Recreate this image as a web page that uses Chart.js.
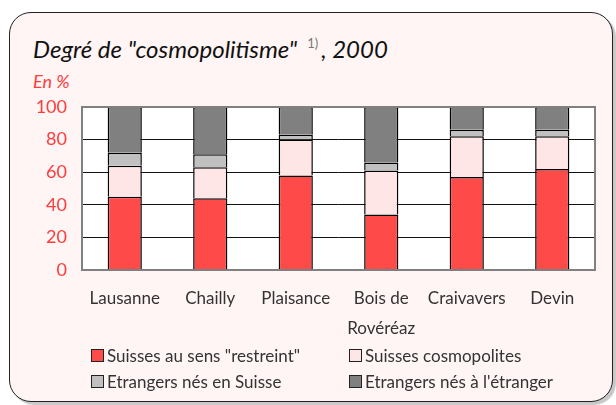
<!DOCTYPE html>
<html>
<head>
<meta charset="utf-8">
<script src="https://cdn.jsdelivr.net/npm/chart.js@4"></script>
<style>
  html, body { margin: 0; padding: 0; background: #fff; }
  body { width: 616px; height: 405px; position: relative; overflow: hidden; font-family: Lato, sans-serif; }
  .panel {
    position: absolute; left: 9px; top: 12px; width: 602px; height: 388px;
    background: #fff5f5; border: 1px solid #222; border-radius: 22px;
    box-shadow: 3px 3px 1px #c8c8c8;
  }
  .title { position: absolute; left: 33px; top: 34px; font-size: 24px; font-style: italic; color: #111; white-space: nowrap; }
  .title sup { font-size: 13px; color: #777; font-style: normal; vertical-align: 10px; margin: 0 3px 0 10px; }
  .unit { position: absolute; left: 33px; top: 70px; font-size: 18px; font-style: italic; color: #ff3b3b; }
  canvas { position: absolute; left: 0; top: 0; }
  .legend { position: absolute; left: 91px; top: 344px; display: grid; grid-template-columns: 258px auto; row-gap: 4px; font-size: 17px; color: #333; }
  .legend div { display: flex; align-items: center; height: 22px; }
  .legend span.box { width: 13px; height: 13px; border: 1px solid #222; margin-right: 3px; box-sizing: border-box; }
</style>
</head>
<body>
<div class="panel"></div>
<div class="title">Degré de "cosmopolitisme"<sup>1)</sup>, 2000</div>
<div class="unit">En %</div>
<canvas id="c" width="616" height="405"></canvas>
<div class="legend" id="legend"></div>
<script>
const categories = ['Lausanne', 'Chailly', 'Plaisance', ['Bois de', 'Rovéréaz'], 'Craivavers', 'Devin'];
const suissesRestreint = [45, 44, 58, 34, 57, 62];
const suissesCosmo = [19, 19, 22, 27, 25, 20];
const etrangersSuisse = [8, 8, 3, 5, 4, 4];
const etrangersEtranger = [28, 29, 17, 34, 14, 14];
const yTicks = [0, 20, 40, 60, 80, 100];

const series = [
  { label: 'Suisses au sens "restreint"', data: suissesRestreint, color: '#ff4a4a' },
  { label: 'Suisses cosmopolites', data: suissesCosmo, color: '#ffe6e6' },
  { label: 'Etrangers nés en Suisse', data: etrangersSuisse, color: '#c0c0c0' },
  { label: 'Etrangers nés à l\'étranger', data: etrangersEtranger, color: '#808080' }
];

const plotFrame = {
  id: 'plotFrame',
  beforeDraw(chart) {
    const { ctx, chartArea: a } = chart;
    ctx.save();
    ctx.fillStyle = '#ffffff';
    ctx.fillRect(a.left, a.top, a.width, a.height);
    ctx.restore();
  },
  afterDatasetsDraw(chart) {
    const { ctx, chartArea: a } = chart;
    ctx.save();
    ctx.strokeStyle = '#808080';
    ctx.lineWidth = 2;
    ctx.strokeRect(a.left, a.top, a.width, a.height);
    ctx.restore();
  }
};

const chart = new Chart(document.getElementById('c'), {
  type: 'bar',
  data: {
    labels: categories,
    datasets: series.map(s => ({
      label: s.label,
      data: s.data,
      backgroundColor: s.color,
      borderColor: '#000',
      borderWidth: 1.5,
      barPercentage: 0.4,
      categoryPercentage: 1
    }))
  },
  options: {
    responsive: false,
    animation: false,
    layout: { padding: { left: 0, top: 107, right: 21, bottom: 0 } },
    plugins: { legend: { display: false }, tooltip: { enabled: false } },
    scales: {
      x: {
        stacked: true,
        grid: { display: false },
        border: { display: false },
        ticks: { color: '#333', font: { family: 'Lato', size: 17, lineHeight: 1.75 }, padding: 6, maxRotation: 0, autoSkip: false },
        afterFit(scale) { scale.height = 135; }
      },
      y: {
        stacked: true,
        min: 0, max: 100,
        afterBuildTicks(scale) { scale.ticks = yTicks.map(v => ({ value: v })); },
        grid: {
          drawTicks: false,
          color: ctx => (ctx.tick.value === 0 || ctx.tick.value === 100) ? 'rgba(0,0,0,0)' : '#111',
          lineWidth: 1
        },
        border: { display: false },
        ticks: { color: '#ff3b3b', font: { family: 'Lato', size: 18 }, padding: 15 },
        afterFit(scale) { scale.width = 82; }
      }
    }
  },
  plugins: [plotFrame]
});

const legend = document.getElementById('legend');
series.forEach(s => {
  const item = document.createElement('div');
  item.innerHTML = `<span class="box" style="background:${s.color}"></span>${s.label}`;
  legend.appendChild(item);
});
</script>
</body>
</html>
